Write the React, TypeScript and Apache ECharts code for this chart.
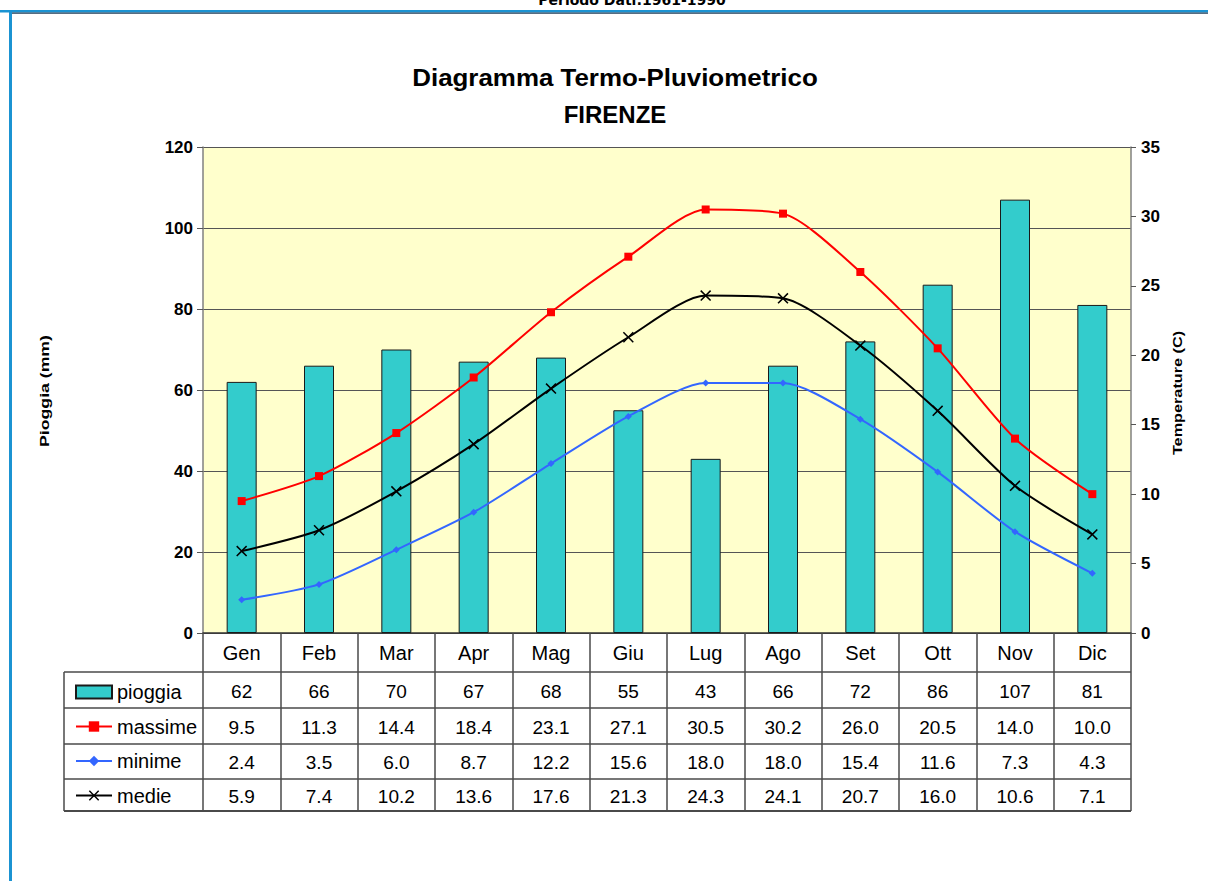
import React, { useEffect, useRef } from "react";
import * as echarts from "echarts";

const months = ["Gen", "Feb", "Mar", "Apr", "Mag", "Giu", "Lug", "Ago", "Set", "Ott", "Nov", "Dic"];
const pioggia = [62, 66, 70, 67, 68, 55, 43, 66, 72, 86, 107, 81];
const massime = [9.5, 11.3, 14.4, 18.4, 23.1, 27.1, 30.5, 30.2, 26.0, 20.5, 14.0, 10.0];
const minime = [2.4, 3.5, 6.0, 8.7, 12.2, 15.6, 18.0, 18.0, 15.4, 11.6, 7.3, 4.3];
const medie = [5.9, 7.4, 10.2, 13.6, 17.6, 21.3, 24.3, 24.1, 20.7, 16.0, 10.6, 7.1];
const seriesNames = ["pioggia", "massime", "minime", "medie"];

const FONT = "'Liberation Sans', Arial, sans-serif";
const G_LEFT = 203;
const G_TOP = 147;
const G_W = 928;
const G_H = 486;
const G_BOTTOM = G_TOP + G_H;

const X_MARK = "path://M0,1 L1,0 L5,4 L9,0 L10,1 L6,5 L10,9 L9,10 L5,6 L1,10 L0,9 L4,5 Z";

export default function App() {
  const ref = useRef<HTMLDivElement>(null);
  useEffect(() => {
    if (!ref.current) return;
    const chart = echarts.init(ref.current, null, { renderer: "svg" });

    const rowCenters = [691, 727, 762, 796];
    const rowData = [
      pioggia.map((v) => String(v)),
      massime.map((v) => v.toFixed(1)),
      minime.map((v) => v.toFixed(1)),
      medie.map((v) => v.toFixed(1)),
    ];
    const tableRows = rowData.map((d, i) => ({
      type: "category",
      gridIndex: 0,
      position: "bottom",
      offset: rowCenters[i] - G_BOTTOM,
      data: d,
      boundaryGap: true,
      axisLine: { show: false },
      axisTick: { show: false },
      splitLine: { show: false },
      axisLabel: {
        interval: 0,
        margin: 0,
        verticalAlign: "middle",
        fontSize: 19,
        color: "#000",
        fontFamily: FONT,
      },
    }));

    const hLines = [672, 708, 744, 779, 811].map((y, i) => ({
      type: "line",
      shape: { x1: 64, y1: y, x2: G_LEFT + G_W, y2: y },
      style: { stroke: "#4a4a4a", lineWidth: i === 4 ? 2 : 1.5 },
      z: 10,
    }));

    chart.setOption({
      animation: false,
      backgroundColor: "#ffffff",
      grid: {
        left: G_LEFT,
        top: G_TOP,
        width: G_W,
        height: G_H,
        show: true,
        backgroundColor: "#FFFFCC",
        borderWidth: 0,
      },
      legend: {
        orient: "vertical",
        left: 70,
        top: 677,
        itemWidth: 36,
        itemHeight: 13,
        itemGap: 14.5,
        selectedMode: false,
        textStyle: { fontSize: 20, color: "#000", fontFamily: FONT },
        data: [
          { name: "pioggia", icon: "rect" },
          { name: "massime" },
          { name: "minime" },
          { name: "medie" },
        ],
      },
      xAxis: [
        {
          type: "category",
          data: months,
          boundaryGap: true,
          axisLine: { show: true, lineStyle: { color: "#333", width: 1.5 } },
          axisTick: {
            show: true,
            interval: 0,
            alignWithLabel: false,
            length: 178,
            lineStyle: { color: "#4a4a4a", width: 1.5 },
          },
          axisLabel: {
            interval: 0,
            margin: 20,
            verticalAlign: "middle",
            fontSize: 20,
            color: "#000",
            fontFamily: FONT,
          },
          splitLine: { show: false },
        },
        ...tableRows,
      ],
      yAxis: [
        {
          type: "value",
          min: 0,
          max: 120,
          interval: 20,
          axisLine: { show: true, lineStyle: { color: "#808080", width: 1.5 } },
          axisTick: { show: true, length: 6, lineStyle: { color: "#555" } },
          axisLabel: { fontSize: 17, fontWeight: "bold", color: "#000", margin: 10, fontFamily: FONT },
          splitLine: { show: true, lineStyle: { color: "#555", width: 1 } },
        },
        {
          type: "value",
          min: 0,
          max: 35,
          interval: 5,
          position: "right",
          axisLine: { show: true, lineStyle: { color: "#808080", width: 1.5 } },
          axisTick: { show: true, length: 5, lineStyle: { color: "#555" } },
          axisLabel: { fontSize: 17, fontWeight: "bold", color: "#000", margin: 10, fontFamily: FONT },
          splitLine: { show: false },
        },
      ],
      series: [
        {
          name: seriesNames[0],
          type: "bar",
          yAxisIndex: 0,
          data: pioggia,
          barWidth: 30,
          itemStyle: { color: "#33CCCC", borderColor: "#1a1a1a", borderWidth: 1 },
        },
        {
          name: seriesNames[1],
          type: "line",
          yAxisIndex: 1,
          data: massime,
          smooth: 0.25,
          symbol: "rect",
          symbolSize: 8,
          lineStyle: { color: "#FF0000", width: 2 },
          itemStyle: { color: "#FF0000" },
        },
        {
          name: seriesNames[2],
          type: "line",
          yAxisIndex: 1,
          data: minime,
          smooth: 0.25,
          symbol: "diamond",
          symbolSize: 7,
          lineStyle: { color: "#3366FF", width: 2 },
          itemStyle: { color: "#3366FF" },
        },
        {
          name: seriesNames[3],
          type: "line",
          yAxisIndex: 1,
          data: medie,
          smooth: 0.25,
          symbol: X_MARK,
          symbolSize: 11,
          lineStyle: { color: "#000000", width: 2 },
          itemStyle: { color: "#000000" },
        },
      ],
      graphic: [
        {
          type: "text",
          x: 632,
          y: 7,
          style: {
            text: "Periodo Dati:1961-1990",
            fontSize: 14,
            fontWeight: "bold",
            fontFamily: "'DejaVu Sans', Verdana, sans-serif",
            fill: "#000",
            textAlign: "center",
            textVerticalAlign: "bottom",
          },
        },
        { type: "rect", shape: { x: 0, y: 10, width: 1208, height: 2.5 }, style: { fill: "#1b93d2" } },
        { type: "rect", shape: { x: 12, y: 12.5, width: 1196, height: 1.2 }, style: { fill: "#1d3c58" } },
        { type: "rect", shape: { x: 9, y: 10, width: 3, height: 871 }, style: { fill: "#1b93d2" } },
        {
          type: "text",
          x: 615,
          y: 77,
          scaleX: 1.08,
          style: {
            text: "Diagramma Termo-Pluviometrico",
            fontSize: 24,
            fontWeight: "bold",
            fontFamily: FONT,
            fill: "#000",
            textAlign: "center",
            textVerticalAlign: "middle",
          },
        },
        {
          type: "text",
          x: 615,
          y: 114,
          style: {
            text: "FIRENZE",
            fontSize: 24,
            fontWeight: "bold",
            fontFamily: FONT,
            fill: "#000",
            textAlign: "center",
            textVerticalAlign: "middle",
          },
        },
        {
          type: "text",
          x: 44,
          y: 391,
          rotation: Math.PI / 2,
          scaleX: 1.36,
          style: {
            text: "Pioggia (mm)",
            fontSize: 13,
            fontWeight: "bold",
            fontFamily: FONT,
            fill: "#000",
            textAlign: "center",
            textVerticalAlign: "middle",
          },
        },
        {
          type: "text",
          x: 1178,
          y: 393,
          rotation: Math.PI / 2,
          scaleX: 1.25,
          style: {
            text: "Temperature (C)",
            fontSize: 13,
            fontWeight: "bold",
            fontFamily: FONT,
            fill: "#000",
            textAlign: "center",
            textVerticalAlign: "middle",
          },
        },
        ...hLines,
        {
          type: "line",
          shape: { x1: 64, y1: 672, x2: 64, y2: 811 },
          style: { stroke: "#4a4a4a", lineWidth: 1.5 },
          z: 10,
        },
      ],
    });

    return () => chart.dispose();
  }, []);

  return (
    <div
      ref={ref}
      style={{ position: "absolute", left: 0, top: 0, width: 1208, height: 881 }}
    />
  );
}
